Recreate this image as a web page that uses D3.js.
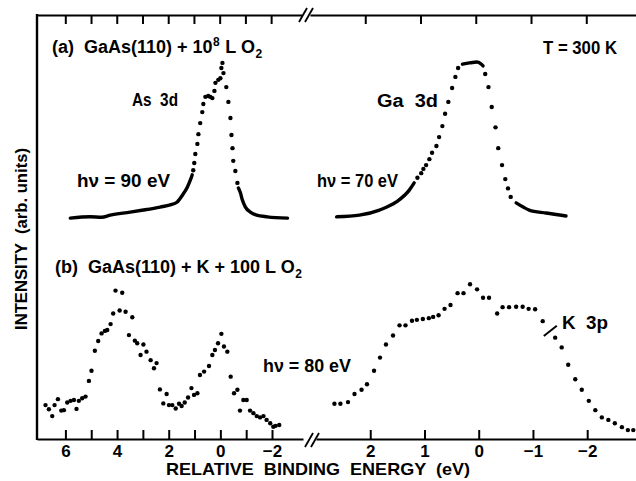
<!DOCTYPE html>
<html>
<head>
<meta charset="utf-8">
<script src="https://cdn.jsdelivr.net/npm/d3@7"></script>
<style>
  html, body { margin: 0; padding: 0; background: #fff; }
  svg { display: block; }
  .lbl { font-family: "Liberation Sans", Arial, sans-serif; fill: #000; }
</style>
</head>
<body>
<script>
// ---- data (energy in eV, intensity in arb. units) ----
// (a) As 3d, hv = 90 eV
var asTailL = [[5.81,52.1],[5.04,52.4],[4.6,52.3],[4.26,52.8],[3.49,53.5],[2.98,54.0],[2.33,54.7],[1.94,55.2],[1.67,55.9],[1.47,57.5],[1.28,59.4],[1.16,61.1],[1.09,62.3]];
var asDots = [[1.05,63.4],[1.01,65.1],[0.97,67.2],[0.89,69.6],[0.85,71.9],[0.78,74.5],[0.70,77.1],[0.66,79.0],[0.58,80.7],[0.47,80.9],[0.39,80.7],[0.31,80.4],[0.23,82.1],[0.19,84.0],[0.08,84.7],[0.0,85.1],[-0.04,87.5],[-0.08,88.7],[-0.12,86.3],[-0.23,83.0],[-0.31,79.5],[-0.39,75.7],[-0.43,71.7],[-0.47,68.6],[-0.50,65.6],[-0.58,63.2],[-0.66,60.4]];
var asTailR = [[-0.70,59.2],[-0.78,58.0],[-0.85,56.4],[-0.97,54.7],[-1.16,53.5],[-1.40,52.8],[-1.82,52.4],[-2.60,52.1]];

// (a) Ga 3d, hv = 70 eV
var gaTailL = [[2.62,52.4],[2.20,52.8],[1.83,54.0],[1.52,55.9],[1.28,58.7],[1.19,60.4]];
var gaDotsL = [[1.13,61.6],[1.06,62.7],[1.02,63.7],[0.97,64.6],[0.91,66.0],[0.86,67.5],[0.78,69.1],[0.73,71.2],[0.67,73.8],[0.62,76.7],[0.56,79.5],[0.49,82.8],[0.43,85.4],[0.38,87.5]];
var gaTop = [[0.30,88.4],[0.17,88.7],[0.03,88.9],[-0.05,88.4],[-0.08,88.0]];
var gaDotsR = [[-0.12,86.1],[-0.18,83.0],[-0.24,78.3],[-0.31,73.5],[-0.36,68.6],[-0.43,64.6],[-0.49,61.3],[-0.54,59.1],[-0.59,57.1]];
var gaTailR = [[-0.69,55.7],[-0.82,54.7],[-0.93,54.0],[-1.24,53.3],[-1.61,52.6]];

// (b) As 3d region, hv = 80 eV
var bLeft = [[6.77,8.0],[6.64,7.0],[6.51,5.4],[6.42,8.0],[6.29,9.4],[6.16,6.7],[6.06,6.8],[5.93,8.6],[5.80,9.0],[5.67,9.2],[5.57,7.1],[5.48,9.0],[5.35,9.6],[5.22,10.0],[5.09,13.7],[4.99,16.1],[4.86,20.8],[4.73,23.1],[4.60,24.9],[4.47,25.5],[4.38,25.7],[4.25,27.1],[4.15,29.6],[4.06,35.0],[3.90,30.3],[3.80,34.5],[3.67,30.0],[3.54,24.5],[3.41,28.7],[3.31,23.2],[3.22,22.6],[3.09,19.8],[2.98,22.3],[2.86,20.6],[2.70,18.6],[2.57,16.7],[2.47,17.9],[2.34,11.7],[2.21,8.4],[2.08,10.6],[1.99,8.0],[1.86,8.0],[1.73,7.2],[1.60,8.3],[1.50,7.8],[1.38,8.6],[1.25,9.8],[1.12,12.0],[1.02,10.4],[0.89,10.8],[0.79,15.1],[0.63,15.9],[0.44,17.2],[0.31,19.8],[0.21,21.0],[0.09,22.6],[-0.04,24.8],[-0.14,21.8],[-0.27,20.6],[-0.40,14.7],[-0.53,10.8],[-0.66,11.6],[-0.76,6.7],[-0.89,9.2],[-1.02,9.2],[-1.15,6.7],[-1.28,6.1],[-1.41,5.4],[-1.54,5.1],[-1.67,5.4],[-1.79,4.5],[-1.93,3.7],[-2.05,2.9],[-2.14,3.1],[-2.28,3.3]];

// (b) Ga 3d region + K 3p
var bRight = [[2.66,8.3],[2.55,8.3],[2.41,8.7],[2.29,10.6],[2.16,11.6],[2.06,12.9],[1.93,16.1],[1.82,19.2],[1.71,22.3],[1.58,24.4],[1.46,26.8],[1.35,26.8],[1.23,27.9],[1.14,28.1],[1.03,28.3],[0.92,28.5],[0.84,28.8],[0.74,29.2],[0.63,30.7],[0.52,31.6],[0.39,34.4],[0.28,34.4],[0.16,36.5],[0.03,35.3],[-0.08,33.3],[-0.19,33.3],[-0.34,29.6],[-0.44,31.1],[-0.56,31.1],[-0.69,31.2],[-0.81,31.2],[-0.92,30.7],[-1.04,30.6],[-1.18,27.8],[-1.41,23.9],[-1.53,21.6],[-1.65,17.5],[-1.78,14.1],[-1.90,11.6],[-2.03,9.0],[-2.15,6.8],[-2.27,5.1],[-2.39,4.5],[-2.51,3.7],[-2.64,2.8],[-2.75,2.1],[-2.85,2.1]];

// ticks
var leftTicks = [6, 5, 4, 3, 2, 1, 0, -1, -2];
var leftLabels = [6, 4, 2, 0, -2];
var rightTicks = [2, 1, 0, -1, -2];

var W = 636, H = 481;
var top0 = 15, bot0 = 439, left0 = 37;

var svg = d3.select("body").append("svg")
    .attr("width", W)
    .attr("height", H);

var xL = d3.scaleLinear().domain([7.1, -3.2]).range([left0, 303]);
var xR = d3.scaleLinear().domain([3.0, -2.9]).range([316, W]);
var y = d3.scaleLinear().domain([0, 100]).range([bot0, top0]);

var fmt = function(d) {
  return d < 0 ? "\u2212" + Math.abs(d) : String(d);
};

// ---- axes ----
var drawAxis = function(scale, ticks, labels, yPos, isTop) {
  var ax = (isTop ? d3.axisTop(scale) : d3.axisBottom(scale))
      .tickValues(ticks)
      .tickSizeInner(-9)
      .tickSizeOuter(0)
      .tickPadding(isTop ? 0 : 6)
      .tickFormat(function(d) {
        if (isTop) return "";
        return labels.indexOf(d) >= 0 ? fmt(d) : "";
      });
  var g = svg.append("g")
      .attr("transform", "translate(0," + yPos + ")")
      .call(ax);
  g.select(".domain").attr("stroke", "#000").attr("stroke-width", 2.2);
  g.selectAll(".tick line").attr("stroke", "#000").attr("stroke-width", 2);
  g.selectAll(".tick text")
      .attr("class", "lbl")
      .attr("font-size", 17)
      .attr("font-weight", "bold");
  return g;
};

drawAxis(xL, leftTicks, leftLabels, bot0, false);
drawAxis(xR, rightTicks, rightTicks, bot0, false);
drawAxis(xL.copy().range([left0, 302]), leftTicks, [], top0, true);
drawAxis(xR.copy().range([310, W]), rightTicks, [], top0, true);

// left frame
svg.append("line")
    .attr("x1", left0).attr("x2", left0)
    .attr("y1", top0 - 1).attr("y2", bot0 + 1)
    .attr("stroke", "#000").attr("stroke-width", 2.4);

// axis breaks "//"
var brk = function(cx, cy) {
  [-3, 3].forEach(function(o) {
    svg.append("line")
        .attr("x1", cx + o - 4).attr("y1", cy + 7)
        .attr("x2", cx + o + 4).attr("y2", cy - 7)
        .attr("stroke", "#000").attr("stroke-width", 1.8);
  });
};
brk(306, top0);
brk(312, bot0 + 1);

// ---- data marks ----
var line = function(sx) {
  return d3.line()
      .x(function(d) { return sx(d[0]); })
      .y(function(d) { return y(d[1]); })
      .curve(d3.curveMonotoneX);
};

var drawLine = function(data, sx) {
  svg.append("path")
      .datum(data.slice().sort(function(a, b) { return b[0] - a[0]; }))
      .attr("d", line(sx))
      .attr("fill", "none")
      .attr("stroke", "#000")
      .attr("stroke-width", 3.4)
      .attr("stroke-linecap", "round")
      .attr("stroke-linejoin", "round");
};

var drawDots = function(data, sx) {
  svg.append("g").selectAll("circle")
      .data(data)
    .enter().append("circle")
      .attr("cx", function(d) { return sx(d[0]); })
      .attr("cy", function(d) { return y(d[1]); })
      .attr("r", 2.2)
      .attr("fill", "#000");
};

drawLine(asTailL, xL);
drawDots(asDots, xL);
drawLine(asTailR, xL);

drawLine(gaTailL, xR);
drawDots(gaDotsL, xR);
drawLine(gaTop, xR);
drawDots(gaDotsR, xR);
drawLine(gaTailR, xR);

drawDots(bLeft, xL);
drawDots(bRight, xR);

// K 3p marker
svg.append("line")
    .attr("x1", xR(-1.2)).attr("y1", y(24.3))
    .attr("x2", xR(-1.44)).attr("y2", y(26.7))
    .attr("stroke", "#000").attr("stroke-width", 2);

// ---- text ----
var text = function(x, yy, str, size, opts) {
  opts = opts || {};
  var t = svg.append("text")
      .attr("class", "lbl")
      .attr("x", x).attr("y", yy)
      .attr("font-size", size)
      .attr("font-weight", opts.weight || "normal")
      .attr("text-anchor", opts.anchor || "start")
      .attr("xml:space", "preserve");
  if (opts.len) t.attr("textLength", opts.len).attr("lengthAdjust", "spacingAndGlyphs");
  if (opts.transform) t.attr("transform", opts.transform);
  return t.text(str);
};

// titles with super/subscripts: pieces laid out one after another
// each piece: [string, font size, baseline offset]
var runText = function(x, yy, pieces) {
  var cx = x;
  pieces.forEach(function(p) {
    var t = text(cx, yy + p[2], p[0], p[1], {weight: 600});
    cx += t.node().getComputedTextLength() + 0.5;
  });
};

runText(52, 53, [["(a)  GaAs(110) + 10", 18, 0], ["8", 12, -7], [" L O", 18, 0], ["2", 12, 5]]);
runText(55, 273, [["(b)  GaAs(110) + K + 100 L O", 18, 0], ["2", 12, 5]]);

text(617, 54, "T = 300 K", 18, {weight: 600, anchor: "end", len: 74});
text(132, 106, "As  3d", 18, {weight: 600, len: 46});
text(77, 187, "h\u03bd = 90 eV", 18, {weight: 600, len: 93});
text(377, 107, "Ga  3d", 18, {weight: 600, len: 61});
text(317, 187, "h\u03bd = 70 eV", 18, {weight: 600, len: 81});
text(263, 372, "h\u03bd = 80 eV", 18, {weight: 600, len: 88});
text(562, 329, "K  3p", 18, {weight: 600, len: 46});

text(318, 475, "RELATIVE  BINDING  ENERGY  (eV)", 17, {weight: "bold", anchor: "middle", len: 304});
text(0, 0, "INTENSITY  (arb. units)", 17, {weight: "bold", anchor: "middle", len: 182,
  transform: "translate(27,239) rotate(-90)"});
</script>
</body>
</html>
